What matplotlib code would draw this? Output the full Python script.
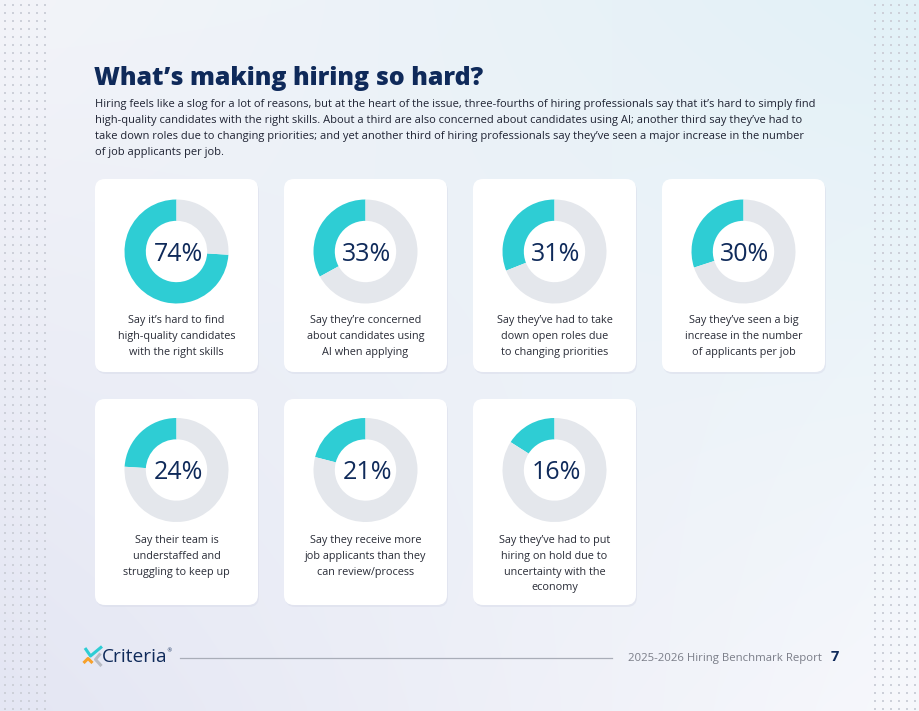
import numpy as np
import matplotlib
matplotlib.use("Agg")
import matplotlib.pyplot as plt
from matplotlib.patches import FancyBboxPatch

W, H = 920, 711
NAVY = "#0f2a5a"
TEAL = "#2ecdd4"
GREY_RING = "#e4e7ec"

title = "What\u2019s making hiring so hard?"
intro_lines = [
    "Hiring feels like a slog for a lot of reasons, but at the heart of the issue, three-fourths of hiring professionals say that it\u2019s hard to simply find",
    "high-quality candidates with the right skills. About a third are also concerned about candidates using AI; another third say they\u2019ve had to",
    "take down roles due to changing priorities; and yet another third of hiring professionals say they\u2019ve seen a major increase in the number",
    "of job applicants per job.",
]

pcts = [74, 33, 31, 30, 24, 21, 16]
labels = [
    "Say it\u2019s hard to find\nhigh-quality candidates\nwith the right skills",
    "Say they\u2019re concerned\nabout candidates using\nAI when applying",
    "Say they\u2019ve had to take\ndown open roles due\nto changing priorities",
    "Say they\u2019ve seen a big\nincrease in the number\nof applicants per job",
    "Say their team is\nunderstaffed and\nstruggling to keep up",
    "Say they receive more\njob applicants than they\ncan review/process",
    "Say they\u2019ve had to put\nhiring on hold due to\nuncertainty with the\neconomy",
]
footer_text = "2025-2026 Hiring Benchmark Report"
page_no = "7"

fig = plt.figure(figsize=(W / 100, H / 100), dpi=100)
ax = fig.add_axes([0, 0, 1, 1])
ax.set_xlim(0, W)
ax.set_ylim(H, 0)
ax.axis("off")

# soft background gradient
yy, xx = np.mgrid[0:1:120j, 0:1:160j]
tl = np.array([243, 244, 249]) / 255
tr = np.array([226, 241, 247]) / 255
bl = np.array([228, 230, 243]) / 255
br = np.array([247, 248, 252]) / 255
img = (tl * ((1 - xx) * (1 - yy))[..., None] + tr * (xx * (1 - yy))[..., None]
       + bl * ((1 - xx) * yy)[..., None] + br * (xx * yy)[..., None])
ax.imshow(img, extent=[0, W, H, 0], aspect="auto", zorder=0, interpolation="bicubic")

# dot grids on both edges
for x0 in (5, 875):
    gx, gy = np.meshgrid(np.arange(x0, x0 + 41, 8), np.arange(5, H, 8))
    ax.scatter(gx.ravel(), gy.ravel(), s=1.2, marker="s", color="#cdd0d9",
               linewidths=0, zorder=1)

# header
ax.text(94, 85, title, fontsize=17.9, fontweight=800, color=NAVY,
        family="Open Sans", va="baseline", ha="left", zorder=3)
for i, line in enumerate(intro_lines):
    ax.text(95, 105 + 16 * i, line, fontsize=8.0, color="#1f2333",
            family="Open Sans", va="center", ha="left", zorder=3)

# cards with donuts
card_w = 163
for i, (p, lab) in enumerate(zip(pcts, labels)):
    row, col = divmod(i, 4)
    x0 = 95 + col * 189
    y0, y1 = (179, 372) if row == 0 else (399, 605)
    cx = x0 + card_w / 2
    cy = 251.5 if row == 0 else 470
    ly = 321 if row == 0 else 540.5

    shadow = FancyBboxPatch((x0 + 1, y0 + 2), card_w, y1 - y0,
                            boxstyle="round,pad=0,rounding_size=10",
                            fc="#d9dcea", ec="none", alpha=0.5, zorder=1.5)
    ax.add_patch(shadow)
    card = FancyBboxPatch((x0, y0), card_w, y1 - y0,
                          boxstyle="round,pad=0,rounding_size=10",
                          fc="white", ec="none", zorder=2)
    ax.add_patch(card)

    r = 52
    pax = fig.add_axes([(cx - r) / W, (H - cy - r) / H, 2 * r / W, 2 * r / H])
    pax.pie([p, 100 - p], colors=[TEAL, GREY_RING], startangle=90,
            counterclock=True, radius=1,
            wedgeprops=dict(width=0.41, edgecolor="none"))
    pax.set_xlim(-1, 1)
    pax.set_ylim(-1, 1)
    pax.set_aspect("equal")
    pax.axis("off")
    pax.text(0.03, -0.05, f"{p}%", fontsize=18, color=NAVY, family="Open Sans",
             ha="center", va="center")

    for j, t in enumerate(lab.split("\n")):
        ax.text(cx, ly + 15.8 * j, t, fontsize=7.8, color="#2a2d38",
                family="Open Sans", ha="center", va="center", zorder=3)

# footer: logo
ax.plot([85, 90.5, 102], [648, 656, 646.5], color=TEAL, lw=2.2,
        solid_capstyle="butt", zorder=3)
ax.plot([83.5, 88, 92.5], [663, 658.5, 663], color="#f7a12b", lw=2.2,
        solid_capstyle="butt", zorder=3)
ax.plot([100.5, 95.5, 101.5], [653.5, 659.5, 666], color="#b9bcc4", lw=2.2,
        solid_capstyle="butt", zorder=3)
ax.text(102, 657, "Criteria", fontsize=13.8, color=NAVY, family="Open Sans",
        va="center", ha="left", zorder=3)
ax.text(166.5, 650.5, "\u00ae", fontsize=4, color=NAVY, va="center", ha="left", zorder=3)

ax.plot([180, 612], [658, 658], color="#a9adb8", lw=0.9, zorder=3)
ax.text(628, 658, footer_text, fontsize=8.2, color="#7a7d88", family="Open Sans",
        va="center", ha="left", zorder=3)
ax.text(831, 657, page_no, fontsize=10.5, fontweight="bold", color=NAVY,
        family="Open Sans", va="center", ha="left", zorder=3)

fig.savefig("out.png", dpi=100)
